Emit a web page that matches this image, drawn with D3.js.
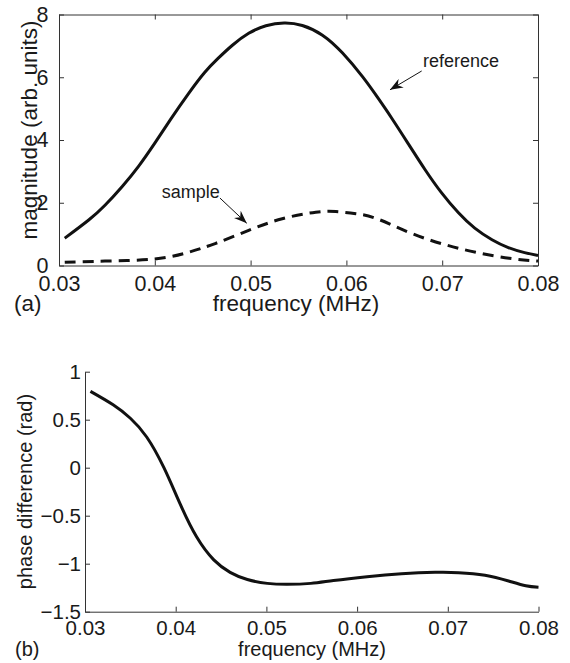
<!DOCTYPE html>
<html>
<head>
<meta charset="utf-8">
<script src="https://cdn.jsdelivr.net/npm/d3@7"></script>
<style>
  body { margin: 0; background: #fff; }
  svg text { font-family: "Liberation Sans", Arial, Helvetica, sans-serif; fill: #1a1a1a; }
  .axis path, .axis line { stroke: #333; stroke-width: 1; }
</style>
</head>
<body>
<svg id="chart" width="570" height="663"></svg>
<script>
// (a) magnitude spectra
var freqRef = [0.0306, 0.0331, 0.0348, 0.0366, 0.0383, 0.0400, 0.0417, 0.0435, 0.0452, 0.0466, 0.0481, 0.0498,
               0.0516, 0.0535, 0.0554, 0.0575, 0.0596, 0.0617, 0.0632, 0.0647, 0.0665, 0.0682, 0.0699, 0.0717,
               0.0734, 0.0752, 0.0769, 0.0786, 0.0800];
var magRef = [0.87, 1.45, 1.92, 2.52, 3.16, 3.90, 4.68, 5.47, 6.15, 6.60, 7.02, 7.40,
              7.64, 7.73, 7.65, 7.34, 6.77, 6.01, 5.38, 4.71, 3.86, 3.06, 2.33, 1.68,
              1.19, 0.82, 0.57, 0.41, 0.32];

var freqSample = [0.0306, 0.0348, 0.0400, 0.0435, 0.0463, 0.0498, 0.0533, 0.0568, 0.0589, 0.0610, 0.0632,
                  0.0665, 0.0700, 0.0735, 0.0770, 0.0800];
var magSample = [0.10, 0.14, 0.21, 0.42, 0.70, 1.12, 1.49, 1.70, 1.72, 1.65, 1.49,
                 1.06, 0.69, 0.42, 0.23, 0.14];

// (b) phase difference
var freqPhase = [0.0306, 0.0331, 0.0350, 0.0368, 0.0387, 0.0405, 0.0423, 0.0442, 0.0460, 0.0479, 0.0501,
                 0.0523, 0.0549, 0.0574, 0.0611, 0.0649, 0.0686, 0.0712, 0.0741, 0.0767, 0.0786, 0.0800];
var phaseDiff = [0.795, 0.655, 0.515, 0.32, 0.0, -0.38, -0.72, -0.96, -1.09, -1.165, -1.205,
                 -1.215, -1.205, -1.175, -1.135, -1.105, -1.09, -1.093, -1.12, -1.18, -1.23, -1.245];

var xTicks = [0.03, 0.04, 0.05, 0.06, 0.07, 0.08];
var magTicks = [0, 2, 4, 6, 8];
var phaseTicks = [-1.5, -1, -0.5, 0, 0.5, 1];

// annotations, in data units: [text, text x, text y, arrow from x, y, arrow to x, y]
var refNote = ["reference", 0.0680, 6.33, 0.06786, 6.2, 0.06455, 5.6];
var sampleNote = ["sample", 0.04072, 2.15, 0.0468, 2.15, 0.0496, 1.345];

var svg = d3.select("#chart");

function fmt(d) { return String(d).replace("-", "\u2212"); }

svg.append("defs").append("marker")
  .attr("id", "head")
  .attr("viewBox", "0 0 13 10")
  .attr("refX", 13).attr("refY", 5)
  .attr("markerWidth", 13).attr("markerHeight", 10)
  .attr("markerUnits", "userSpaceOnUse")
  .attr("orient", "auto")
  .append("path")
  .attr("d", "M0,0 L13,5 L0,10 L4,5 Z")
  .attr("fill", "#111");

function line(x, y) {
  return d3.line()
    .x(function(d) { return x(d[0]); })
    .y(function(d) { return y(d[1]); })
    .curve(d3.curveNatural);
}

// ---------- panel (a) ----------
var xa = d3.scaleLinear().domain([0.03, 0.08]).range([59, 538]);
var ya = d3.scaleLinear().domain([0, 8]).range([265.5, 14.5]);
var tickA = 21.5, labelA = 22.5, noteFont = 18;

var ga = svg.append("g");

ga.append("g").attr("class", "axis")
  .attr("transform", "translate(0," + ya(0) + ")")
  .call(d3.axisBottom(xa).tickValues(xTicks).tickSize(-5).tickSizeOuter(0).tickPadding(10).tickFormat(fmt))
  .selectAll("text").style("font-size", tickA + "px");
ga.append("g").attr("class", "axis")
  .attr("transform", "translate(0," + ya(8) + ")")
  .call(d3.axisTop(xa).tickValues(xTicks).tickSize(-5).tickSizeOuter(0).tickFormat(""));
ga.append("g").attr("class", "axis")
  .attr("transform", "translate(" + xa(0.03) + ",0)")
  .call(d3.axisLeft(ya).tickValues(magTicks).tickSize(-5).tickSizeOuter(0).tickPadding(10.5).tickFormat(fmt))
  .selectAll("text").style("font-size", tickA + "px");
ga.append("g").attr("class", "axis")
  .attr("transform", "translate(" + xa(0.08) + ",0)")
  .call(d3.axisRight(ya).tickValues(magTicks).tickSize(-5).tickSizeOuter(0).tickFormat(""));

ga.append("path")
  .datum(d3.zip(freqRef, magRef))
  .attr("d", line(xa, ya))
  .attr("fill", "none").attr("stroke", "#111").attr("stroke-width", 3);

ga.append("path")
  .datum(d3.zip(freqSample, magSample))
  .attr("d", line(xa, ya))
  .attr("fill", "none").attr("stroke", "#111").attr("stroke-width", 3)
  .attr("stroke-dasharray", "11,7");

[refNote, sampleNote].forEach(function(n) {
  ga.append("text")
    .attr("x", xa(n[1])).attr("y", ya(n[2]))
    .style("font-size", noteFont + "px")
    .text(n[0]);
  ga.append("line")
    .attr("x1", xa(n[3])).attr("y1", ya(n[4]))
    .attr("x2", xa(n[5])).attr("y2", ya(n[6]))
    .attr("stroke", "#111").attr("stroke-width", 1)
    .attr("marker-end", "url(#head)");
});

ga.append("text")
  .attr("x", 296).attr("y", 311)
  .attr("text-anchor", "middle")
  .style("font-size", labelA + "px")
  .text("frequency (MHz)");
ga.append("text")
  .attr("x", 14).attr("y", 311)
  .style("font-size", labelA + "px")
  .text("(a)");
ga.append("text")
  .attr("transform", "translate(37,130) rotate(-90)")
  .attr("text-anchor", "middle")
  .style("font-size", labelA + "px")
  .text("magnitude (arb. units)");

// ---------- panel (b) ----------
var xb = d3.scaleLinear().domain([0.03, 0.08]).range([85, 538.5]);
var yb = d3.scaleLinear().domain([-1.5, 1]).range([611.7, 371.7]);
var tickB = 20.5, labelB = 20;

var gb = svg.append("g");

gb.append("g").attr("class", "axis")
  .attr("transform", "translate(0," + yb(-1.5) + ")")
  .call(d3.axisBottom(xb).tickValues(xTicks).tickSize(-5).tickSizeOuter(0).tickPadding(8.5).tickFormat(fmt))
  .selectAll("text").style("font-size", tickB + "px");
gb.append("g").attr("class", "axis")
  .attr("transform", "translate(" + xb(0.03) + ",0)")
  .call(d3.axisLeft(yb).tickValues(phaseTicks).tickSize(-5).tickSizeOuter(0).tickPadding(4).tickFormat(fmt))
  .selectAll("text").style("font-size", tickB + "px");

gb.append("path")
  .datum(d3.zip(freqPhase, phaseDiff))
  .attr("d", line(xb, yb))
  .attr("fill", "none").attr("stroke", "#111").attr("stroke-width", 3);

gb.append("text")
  .attr("x", 312).attr("y", 656)
  .attr("text-anchor", "middle")
  .style("font-size", labelB + "px")
  .text("frequency (MHz)");
gb.append("text")
  .attr("x", 15).attr("y", 656)
  .style("font-size", labelB + "px")
  .text("(b)");
gb.append("text")
  .attr("transform", "translate(32,491.5) rotate(-90)")
  .attr("text-anchor", "middle")
  .style("font-size", labelB + "px")
  .text("phase difference (rad)");
</script>
</body>
</html>
